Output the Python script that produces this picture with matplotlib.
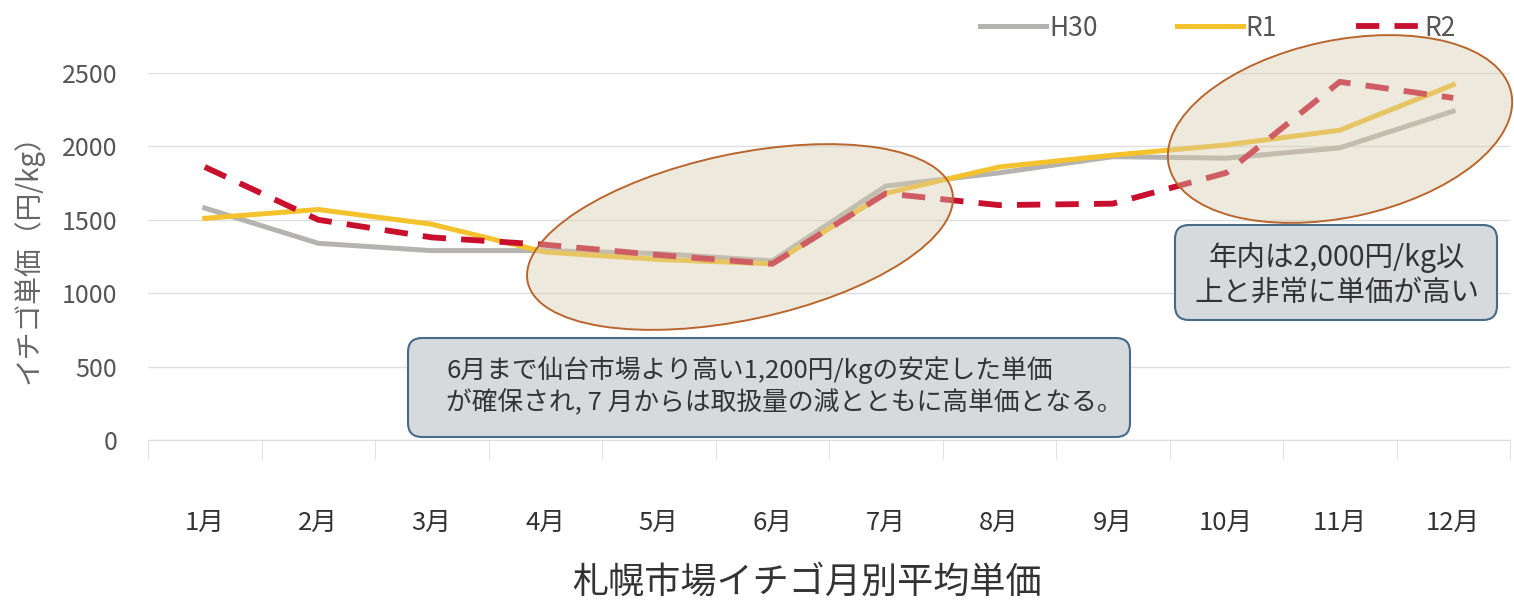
import numpy as np
import matplotlib
matplotlib.use('Agg')
from matplotlib import pyplot as plt
from matplotlib.patches import Ellipse, FancyBboxPatch

plt.rcParams['font.family'] = ['Noto Sans CJK JP', 'DejaVu Sans']

months = ['1月', '2月', '3月', '4月', '5月', '6月', '7月', '8月', '9月', '10月', '11月', '12月']
h30 = [1580, 1340, 1290, 1290, 1270, 1220, 1730, 1820, 1930, 1920, 1990, 2240]
r1 = [1510, 1570, 1470, 1280, 1230, 1200, 1680, 1860, 1940, 2010, 2110, 2420]
r2 = [1860, 1500, 1380, 1330, 1260, 1200, 1680, 1600, 1610, 1820, 2440, 2330]
yticks = [0, 500, 1000, 1500, 2000, 2500]

W, H = 1514, 602
fig = plt.figure(figsize=(W / 100, H / 100), dpi=100)
fig.patch.set_facecolor('white')

ax = fig.add_axes([148 / W, 1 - 440 / H, (1510 - 148) / W, (440 - 73) / H])
x = np.arange(len(months))
ax.plot(x, h30, color='#b5b3b0', lw=3.6, label='H30', zorder=3)
ax.plot(x, r1, color='#f3c22c', lw=3.6, label='R1', zorder=4)
ax.plot(x, r2, color='#c8102e', lw=4.2, ls=(0, (4, 2.6)), label='R2', zorder=5)

ax.set_xlim(-0.5, len(months) - 0.5)
ax.set_ylim(0, 2500)
ax.set_yticks(yticks)
ax.set_xticks(x)
ax.set_xticklabels(months)
ax.set_xticks(np.arange(-0.5, len(months), 1), minor=True)
ax.tick_params(axis='x', which='major', length=0, pad=50, labelsize=18.5, labelcolor='#333333')
ax.tick_params(axis='x', which='minor', length=14, color='#dddddd')
ax.tick_params(axis='y', length=0, pad=22, labelsize=18, labelcolor='#555555')
ax.yaxis.grid(True, color='#dedede', lw=1)
ax.set_axisbelow(True)
for s in ['top', 'right', 'left']:
    ax.spines[s].set_visible(False)
ax.spines['bottom'].set_color('#dddddd')
ax.set_facecolor('none')

fig.text(28 / W, 1 - 252 / H, 'イチゴ単価（円/kg）', rotation=90, ha='center', va='center',
         fontsize=20, color='#666666')
fig.text(807 / W, 1 - 583 / H, '札幌市場イチゴ月別平均単価', ha='center', va='center',
         fontsize=26, color='#333333')

leg = fig.legend(handles=ax.get_lines(), loc='center right', bbox_to_anchor=(1456 / W, 1 - 28 / H),
                 ncol=3, frameon=False, fontsize=19, handlelength=2.5, handletextpad=0.1,
                 columnspacing=3.0, borderpad=0, borderaxespad=0)
for t in leg.get_texts():
    t.set_color('#555555')

# overlay in pixel coords for the hand-drawn annotations
ov = fig.add_axes([0, 0, 1, 1], zorder=10)
ov.set_xlim(0, W)
ov.set_ylim(0, H)
ov.axis('off')
ov.patch.set_alpha(0)

for cx, cy, w, h, ang in [(740, 237, 434, 166, 12), (1340, 129, 350, 177, 12)]:
    ov.add_patch(Ellipse((cx, H - cy), w, h, angle=ang, facecolor='#d8cbb0', alpha=0.42, edgecolor='none'))
    ov.add_patch(Ellipse((cx, H - cy), w, h, angle=ang, facecolor='none', edgecolor='#b8662e', lw=1.4))

boxes = [(408, 338, 1130, 437), (1175, 225, 1497, 320)]
for x0, y0, x1, y1 in boxes:
    ov.add_patch(FancyBboxPatch((x0 + 12, H - y1 + 12), x1 - x0 - 24, y1 - y0 - 24,
                                boxstyle='round,pad=12,rounding_size=14',
                                facecolor='#d6dadd', edgecolor='#476a88', lw=1.5))

ov.text(446, H - 370, '6月まで仙台市場より高い1,200円/kgの安定した単価', ha='left', va='center',
        fontsize=18.5, color='#333333')
ov.text(446, H - 403, 'が確保され, 7 月からは取扱量の減とともに高単価となる。', ha='left', va='center',
        fontsize=18.5, color='#333333')
ov.text(1337, H - 258, '年内は2,000円/kg以', ha='center', va='center', fontsize=20.5, color='#333333')
ov.text(1337, H - 293, '上と非常に単価が高い', ha='center', va='center', fontsize=20.5, color='#333333')

fig.savefig('out.png', dpi=100)
